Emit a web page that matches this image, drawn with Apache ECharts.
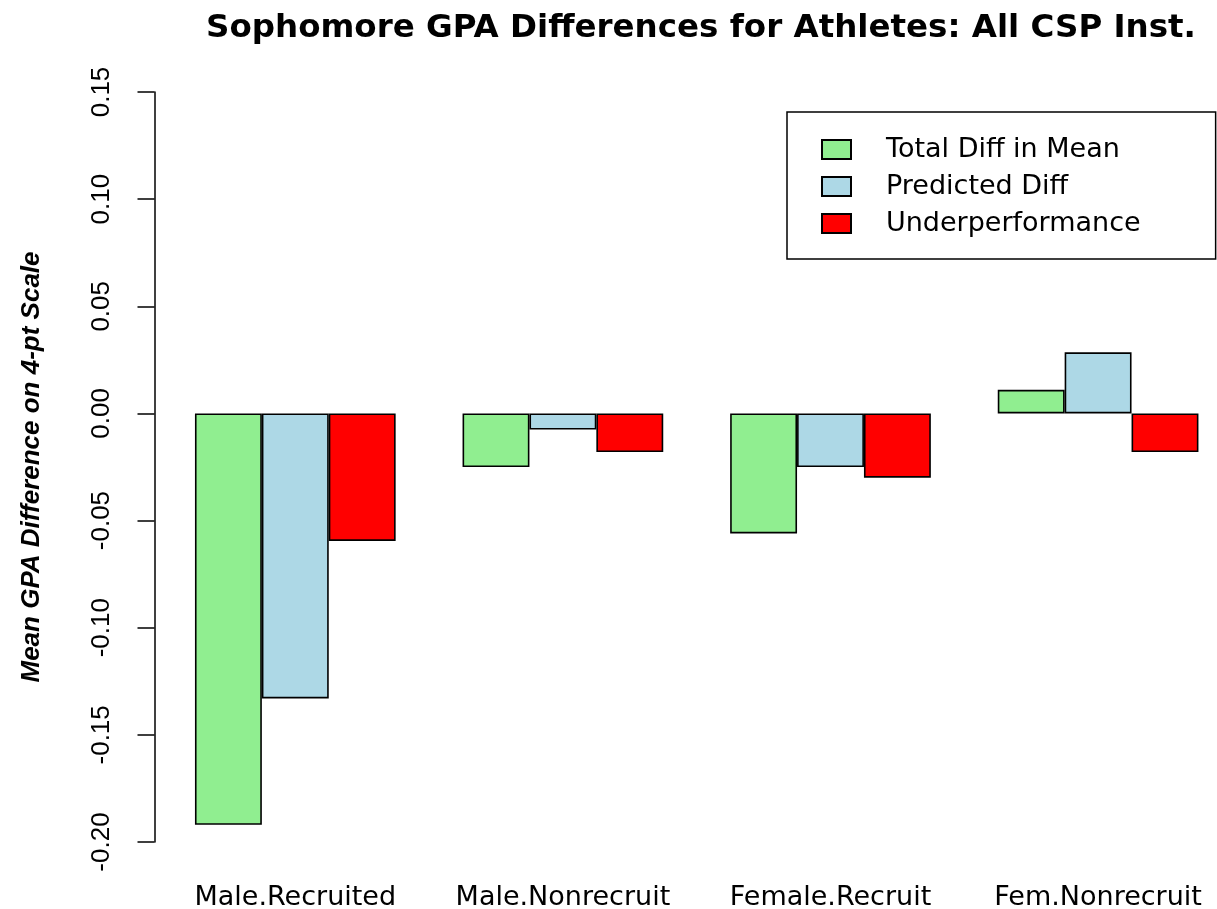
<!DOCTYPE html>
<html>
<head>
<meta charset="utf-8">
<script src="https://cdn.jsdelivr.net/npm/echarts@6/dist/echarts.min.js"></script>
<style>
  html, body { margin: 0; padding: 0; background: #fff; }
  #main { width: 1217px; height: 909px; }
</style>
</head>
<body>
<div id="main"></div>
<script>
// groups along the x axis
var categories = ['Male.Recruited', 'Male.Nonrecruit', 'Female.Recruit', 'Fem.Nonrecruit'];
// mean GPA differences
var totalDiff = [-0.192, -0.025, -0.056, 0.011];
var predictedDiff = [-0.133, -0.0075, -0.025, 0.0285];
var underperformance = [-0.0595, -0.018, -0.030, -0.018];
var yTicks = [-0.20, -0.15, -0.10, -0.05, 0.00, 0.05, 0.10, 0.15];

var chart = echarts.init(document.getElementById('main'));

var barStyle = function (color) {
    return { color: color, borderColor: '#000', borderWidth: 1.6 };
};

var option = {
    animation: false,
    backgroundColor: '#fff',
    title: {
        text: 'Sophomore GPA Differences for Athletes: All CSP Inst.',
        left: 696,
        top: 7,
        textAlign: 'center',
        textStyle: { fontFamily: 'DejaVu Sans', fontWeight: 'bold', fontSize: 32.5, color: '#000' }
    },
    legend: {
        orient: 'vertical',
        left: 787,
        top: 112,
        padding: [24, 75, 22, 34],
        itemGap: 10,
        itemWidth: 29,
        itemHeight: 19,
        icon: 'rect',
        borderColor: '#000',
        borderWidth: 1.5,
        textStyle: { fontFamily: 'DejaVu Sans', fontSize: 27, color: '#000', padding: [0, 0, 0, 30] },
        data: ['Total Diff in Mean', 'Predicted Diff', 'Underperformance']
    },
    grid: {
        left: 161.5,
        top: 92,
        width: 1070.4,
        height: 750,
        outerBoundsMode: 'none'
    },
    xAxis: {
        type: 'category',
        data: categories,
        axisLine: { show: false, onZero: false },
        axisTick: { show: false },
        axisLabel: { interval: 0, margin: 42, fontFamily: 'DejaVu Sans', fontSize: 27, color: '#000' }
    },
    yAxis: {
        type: 'value',
        min: yTicks[0],
        max: yTicks[yTicks.length - 1],
        interval: 0.05,
        offset: 7,
        name: 'Mean GPA Difference on 4-pt Scale',
        nameLocation: 'middle',
        nameGap: 110,
        nameTextStyle: { fontFamily: 'Liberation Sans', fontWeight: 'bold', fontStyle: 'italic', fontSize: 26, color: '#000' },
        axisLine: { show: true, lineStyle: { color: '#000', width: 1.5 } },
        axisTick: { show: true, length: 17, lineStyle: { color: '#000', width: 1.5 } },
        splitLine: { show: false },
        axisLabel: {
            rotate: 90,
            margin: 40,
            fontFamily: 'Liberation Sans',
            fontSize: 26,
            color: '#000',
            formatter: function (v) { return v.toFixed(2); }
        }
    },
    series: [
        { name: 'Total Diff in Mean', type: 'bar', data: totalDiff, barWidth: 66.9, barGap: '0%', itemStyle: barStyle('#90EE90') },
        { name: 'Predicted Diff', type: 'bar', data: predictedDiff, barWidth: 66.9, barGap: '0%', itemStyle: barStyle('#ADD8E6') },
        { name: 'Underperformance', type: 'bar', data: underperformance, barWidth: 66.9, barGap: '0%', itemStyle: barStyle('#FF0000') }
    ]
};

chart.setOption(option);
</script>
</body>
</html>
